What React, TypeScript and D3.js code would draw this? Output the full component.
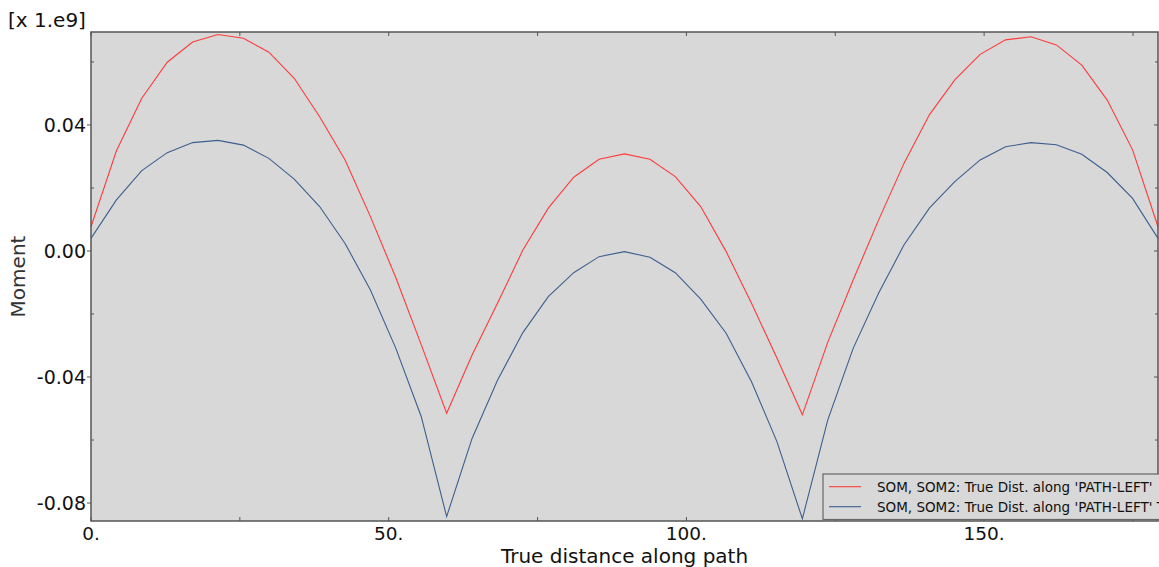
import * as d3 from "d3";

// distance along path (x) and moment values (x 1e9)
const distance = [
  0, 4.27, 8.53, 12.8, 17.07, 21.33, 25.6, 29.87, 34.13, 38.4, 42.67, 46.93,
  51.2, 55.47, 59.73, 64.0, 68.27, 72.53, 76.8, 81.07, 85.33, 89.6, 93.87,
  98.13, 102.4, 106.67, 110.93, 115.2, 119.47, 123.73, 128.0, 132.27, 136.53,
  140.8, 145.07, 149.33, 153.6, 157.87, 162.13, 166.4, 170.67, 174.93, 179.2,
];

const momentRed = [
  0.0077, 0.0318, 0.0485, 0.0599, 0.0663, 0.0687, 0.0675, 0.0631, 0.0548,
  0.0426, 0.0289, 0.0109, -0.0085, -0.0298, -0.0515, -0.033, -0.0166, 0.0003,
  0.0136, 0.0234, 0.0291, 0.0308, 0.0291, 0.0236, 0.0141, -0.0002, -0.0166,
  -0.034, -0.052, -0.029, -0.0092, 0.0098, 0.0278, 0.0432, 0.0543, 0.0624,
  0.067, 0.068, 0.0654, 0.059, 0.0479, 0.0321, 0.0077,
];

const momentBlue = [
  0.004, 0.0162, 0.0255, 0.0312, 0.0344, 0.0351, 0.0336, 0.0294, 0.0228,
  0.0141, 0.0024, -0.0124, -0.0309, -0.0526, -0.0843, -0.0595, -0.041,
  -0.0259, -0.0145, -0.0069, -0.0018, -0.0002, -0.002, -0.0069, -0.0153,
  -0.0261, -0.0415, -0.0605, -0.085, -0.0537, -0.0309, -0.0134, 0.0019,
  0.0136, 0.022, 0.0289, 0.0331, 0.0344, 0.0337, 0.0307, 0.0249, 0.0167, 0.004,
];

const xTicks = [0, 50, 100, 150];
const xTickLabels = ["0.", "50.", "100.", "150."];
const xMinorTicks = [25, 75, 125, 175];
const yTicks = [0.04, 0.0, -0.04, -0.08];
const yTickLabels = ["0.04", "0.00", "-0.04", "-0.08"];
const yMinorTicks = [0.06, 0.02, -0.02, -0.06];

const legendItems = [
  { color: "#ff3b3b", text: "SOM, SOM2: True Dist. along 'PATH-LEFT'" },
  { color: "#3d5f8e", text: "SOM, SOM2: True Dist. along 'PATH-LEFT' T" },
];

const W = 1159;
const H = 567;
const margin = { top: 32, right: 0, bottom: 46, left: 91 };
const FONT = "'DejaVu Sans', Verdana, sans-serif";
const AXIS = "#555";

export default function App() {
  const x = d3
    .scaleLinear()
    .domain([0, 179.2])
    .range([margin.left, W - 1]);
  const y = d3
    .scaleLinear()
    .domain([-0.0857, 0.0695])
    .range([H - margin.bottom, margin.top]);

  const line = d3
    .line<number>()
    .x((_, i) => x(distance[i]))
    .y((d) => y(d));

  const left = x.range()[0];
  const right = x.range()[1];
  const top = y.range()[1];
  const bottom = y.range()[0];

  return (
    <svg
      width={W}
      height={H}
      style={{ position: "absolute", left: 0, top: 0, fontFamily: FONT }}
    >
      <rect x={0} y={0} width={W} height={H} fill="#fff" />
      <rect
        x={left}
        y={top}
        width={right - left}
        height={bottom - top}
        fill="#d8d8d8"
      />

      <text x={8} y={27} fontSize={20} fill="#111">
        [x 1.e9]
      </text>

      {/* series */}
      <path
        d={line(momentRed) ?? ""}
        fill="none"
        stroke={legendItems[0].color}
        strokeWidth={1.1}
      />
      <path
        d={line(momentBlue) ?? ""}
        fill="none"
        stroke={legendItems[1].color}
        strokeWidth={1.1}
      />

      {/* frame */}
      <rect
        x={left}
        y={top}
        width={right - left}
        height={bottom - top}
        fill="none"
        stroke={AXIS}
        strokeWidth={1.5}
      />

      {/* x ticks (bottom + top, inward) */}
      {[...xTicks, ...xMinorTicks].map((t) => (
        <g key={"xt" + t}>
          <line x1={x(t)} x2={x(t)} y1={bottom} y2={bottom - 4} stroke={AXIS} />
          <line x1={x(t)} x2={x(t)} y1={top} y2={top + 4} stroke={AXIS} />
        </g>
      ))}
      {xTicks.map((t, i) => (
        <text
          key={"xl" + t}
          x={x(t)}
          y={540}
          textAnchor="middle"
          fontSize={18.5}
          fill="#111"
        >
          {xTickLabels[i]}
        </text>
      ))}

      {/* y ticks */}
      {yTicks.map((t, i) => (
        <g key={"yt" + t}>
          <line x1={left - 4} x2={left} y1={y(t)} y2={y(t)} stroke={AXIS} />
          <line x1={right} x2={right - 4} y1={y(t)} y2={y(t)} stroke={AXIS} />
          <text
            x={left - 5}
            y={y(t)}
            dy="0.36em"
            textAnchor="end"
            fontSize={19}
            fill="#111"
          >
            {yTickLabels[i]}
          </text>
        </g>
      ))}
      {yMinorTicks.map((t) => (
        <g key={"ym" + t}>
          <line x1={left} x2={left + 3} y1={y(t)} y2={y(t)} stroke={AXIS} />
          <line x1={right} x2={right - 3} y1={y(t)} y2={y(t)} stroke={AXIS} />
        </g>
      ))}

      {/* axis titles */}
      <text
        x={(left + right) / 2}
        y={562.5}
        textAnchor="middle"
        fontSize={20}
        fill="#111"
      >
        True distance along path
      </text>
      <text
        transform={`translate(25,${(top + bottom) / 2}) rotate(-90)`}
        textAnchor="middle"
        fontSize={20}
        fill="#333"
      >
        Moment
      </text>

      {/* legend */}
      <g transform="translate(823,474)">
        <rect
          x={0}
          y={0}
          width={W}
          height={45.5}
          fill="#d8d8d8"
          stroke="#666"
          strokeWidth={1.2}
        />
        {legendItems.map((d, i) => (
          <g key={d.text} transform={`translate(0,${12.7 + i * 20})`}>
            <line x1={6} x2={38} y1={0} y2={0} stroke={d.color} strokeWidth={1.1} />
            <text x={54} y={0} dy="0.36em" fontSize={13.5} fill="#111">
              {d.text}
            </text>
          </g>
        ))}
      </g>
    </svg>
  );
}
